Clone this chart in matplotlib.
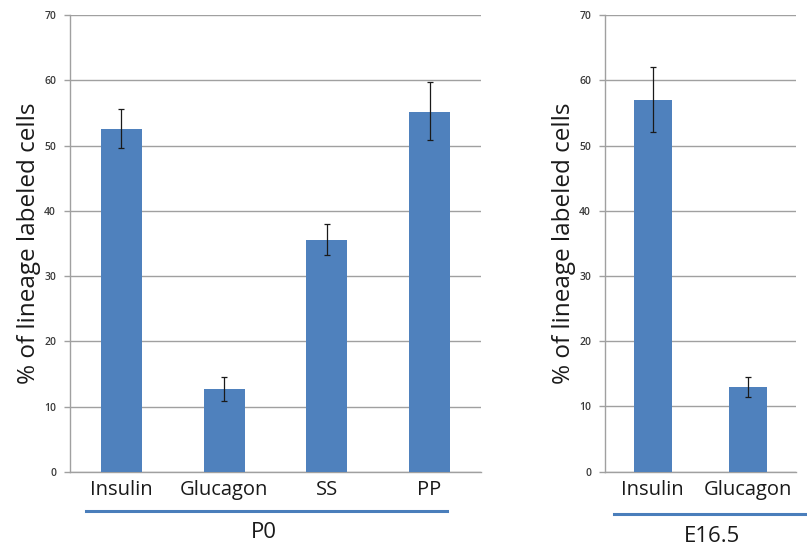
import matplotlib.pyplot as plt
from matplotlib.lines import Line2D

# data
p0_labels = ['Insulin', 'Glucagon', 'SS', 'PP']
p0_values = [52.6, 12.7, 35.5, 55.2]
p0_err_low = [49.6, 10.8, 33.2, 50.9]
p0_err_high = [55.6, 14.6, 38.0, 59.8]

e16_labels = ['Insulin', 'Glucagon']
e16_values = [57.0, 13.0]
e16_err_low = [52.1, 11.4]
e16_err_high = [62.0, 14.5]

group_names = ['P0', 'E16.5']
yticks = [0, 10, 20, 30, 40, 50, 60, 70]

barColor = '#4F81BD'
gridColor = '#A0A0A0'
lineColor = '#4A7EBB'
font = 'Open Sans'

fig = plt.figure(figsize=(8.07, 5.48), dpi=100)
axL = fig.add_axes([0.0867, 0.1387, 0.5093, 0.8339])
axR = fig.add_axes([0.7497, 0.1392, 0.2367, 0.8334])


def draw_panel(ax, labels, values, lo, hi):
    x = range(len(labels))
    yerr = [[v - l for v, l in zip(values, lo)], [h - v for v, h in zip(values, hi)]]
    ax.bar(x, values, width=0.4, color=barColor, zorder=3)
    ax.errorbar(x, values, yerr=yerr, fmt='none', ecolor='#1a1a1a', elinewidth=0.9,
                capsize=2.5, capthick=0.9, zorder=4)
    ax.set_xlim(-0.5, len(labels) - 0.5)
    ax.set_ylim(0, 70)
    ax.set_yticks(yticks)
    ax.set_yticklabels([str(t) for t in yticks], fontsize=7.5, fontfamily=font,
                       color='#3a3a3a', fontweight='semibold')
    ax.set_xticks(list(x))
    ax.set_xticklabels(labels, fontsize=14.5, fontfamily=font, color='#1a1a1a')
    ax.tick_params(axis='x', length=0, pad=6)
    ax.tick_params(axis='y', length=4, width=1, color=gridColor, pad=6)
    ax.yaxis.grid(True, color=gridColor, linewidth=1, zorder=0)
    for s in ['top', 'right']:
        ax.spines[s].set_visible(False)
    ax.spines['left'].set_color(gridColor)
    ax.spines['bottom'].set_color(gridColor)
    ax.spines['left'].set_linewidth(1)
    ax.spines['bottom'].set_linewidth(1)
    ax.set_ylabel('% of lineage labeled cells', fontsize=17.5, fontfamily=font,
                  color='#1a1a1a', labelpad=2)


draw_panel(axL, p0_labels, p0_values, p0_err_low, p0_err_high)
draw_panel(axR, e16_labels, e16_values, e16_err_low, e16_err_high)

# group underlines and labels
fig.add_artist(Line2D([86 / 807, 447 / 807], [1 - 511 / 548] * 2, color=lineColor, linewidth=2.2))
fig.add_artist(Line2D([614 / 807, 1.0], [1 - 514 / 548] * 2, color=lineColor, linewidth=2.2))
fig.text(264 / 807, 1 - 533 / 548, group_names[0], ha='center', va='center',
         fontsize=16, fontfamily=font, color='#1a1a1a')
fig.text(712 / 807, 1 - 536 / 548, group_names[1], ha='center', va='center',
         fontsize=16, fontfamily=font, color='#1a1a1a')

fig.savefig('out.png', dpi=100)
